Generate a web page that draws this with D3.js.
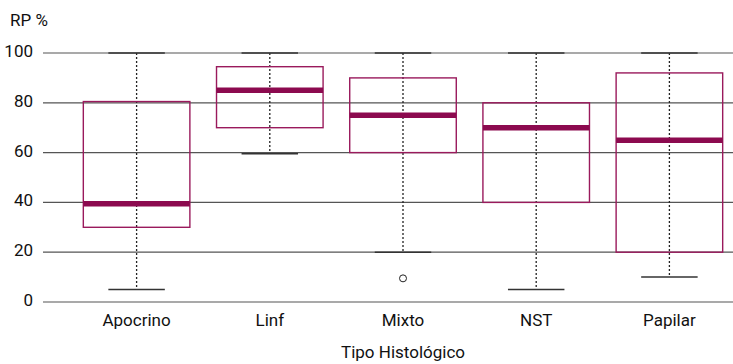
<!DOCTYPE html>
<html><head><meta charset="utf-8">
<script src="https://cdn.jsdelivr.net/npm/d3@7"></script>
<style>body{margin:0;background:#fff}svg text{font-family:Roboto,"Noto Sans",sans-serif;fill:#111}</style>
</head><body><svg id="c" width="733" height="364"></svg>
<script>
const categories = ["Apocrino","Linf","Mixto","NST","Papilar"];
const whiskerLow = [5, 59.5, 20, 5, 10];
const q1 = [30, 70, 60, 40, 20];
const median = [39.5, 85, 75, 70, 65];
const q3 = [80.5, 94.5, 90, 80, 92];
const whiskerHigh = [100, 100, 100, 100, 100];
const outliers = [[], [], [9.5], [], []];
const yTicks = [0, 20, 40, 60, 80, 100];

const svg = d3.select("#c");
const y = d3.scaleLinear().domain([0, 100]).range([302, 53]);
const x = d3.scaleBand().domain(categories).range([70, 736]).paddingInner(0.2).paddingOuter(0.1);
const bw = x.bandwidth();
const cx = c => x(c) + bw / 2;

// grid
svg.append("g").selectAll("line").data(yTicks).join("line")
  .attr("x1", 43).attr("x2", 733).attr("y1", d => y(d)).attr("y2", d => y(d))
  .attr("stroke", "#555").attr("stroke-width", 1.2);
svg.append("g").selectAll("text").data(yTicks).join("text")
  .attr("x", 33).attr("y", d => y(d) + 4).attr("text-anchor", "end")
  .attr("font-size", 17).text(d => d);
svg.append("text").attr("x", 10).attr("y", 26).attr("font-size", 17).text("RP %");

const g = svg.append("g");
categories.forEach((c, i) => {
  const xc = cx(c);
  const capW = bw * 0.53;
  g.append("line").attr("x1", xc).attr("x2", xc).attr("y1", y(whiskerHigh[i])).attr("y2", y(whiskerLow[i]))
    .attr("stroke", "#222").attr("stroke-width", 1.3).attr("stroke-dasharray", "2,2");
  [whiskerHigh[i], whiskerLow[i]].forEach(v => {
    g.append("line").attr("x1", xc - capW / 2).attr("x2", xc + capW / 2).attr("y1", y(v)).attr("y2", y(v))
      .attr("stroke", "#333").attr("stroke-width", 1.5);
  });
  g.append("rect").attr("x", x(c)).attr("y", y(q3[i])).attr("width", bw).attr("height", y(q1[i]) - y(q3[i]))
    .attr("fill", "none").attr("stroke", "#9a1a5c").attr("stroke-width", 1.4);
  g.append("line").attr("x1", x(c)).attr("x2", x(c) + bw).attr("y1", y(median[i])).attr("y2", y(median[i]))
    .attr("stroke", "#8c0a4f").attr("stroke-width", 5.5);
  outliers[i].forEach(v => {
    g.append("circle").attr("cx", xc).attr("cy", y(v)).attr("r", 3.5)
      .attr("fill", "none").attr("stroke", "#222").attr("stroke-width", 1);
  });
  svg.append("text").attr("x", xc).attr("y", 326).attr("text-anchor", "middle").attr("font-size", 17).text(c);
});
svg.append("text").attr("x", 403).attr("y", 358).attr("text-anchor", "middle").attr("font-size", 17).text("Tipo Histológico");
</script></body></html>
